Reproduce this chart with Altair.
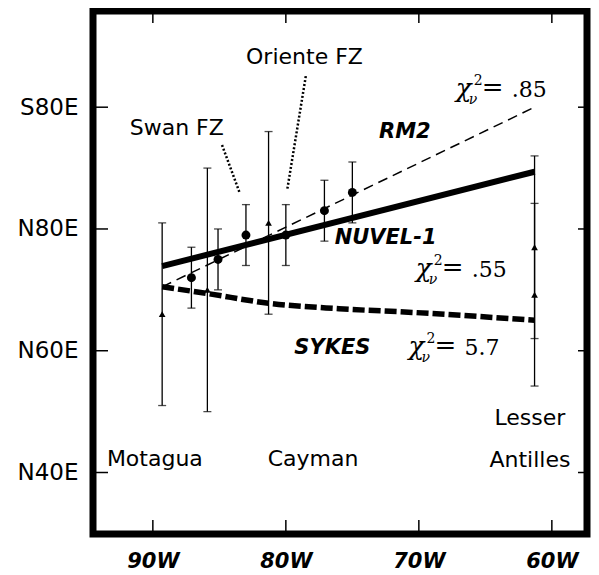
import altair as alt
import pandas as pd

# ---------------- data (longitude in degrees, negative = W; azimuth in degrees) -------------
circ_lon = [-87.1, -85.1, -83.0, -80.0, -77.1, -75.0]
circ_az = [72.0, 75.0, 79.0, 79.0, 83.0, 86.0]
circ_err = [5, 5, 5, 5, 5, 5]

tri_lon = [-89.3, -85.9, -81.3, -61.3, -61.3]
tri_az = [66.0, 70.0, 81.0, 77.0, 69.2]
tri_err = [15, 20, 15, 15, 15]

nuvel_lon = [-89.3, -61.3]
nuvel_az = [73.9, 89.4]

rm2_lon = [-89.3, -61.3]
rm2_az = [70.5, 100.0]

sykes_lon = [-89.3, -85.9, -81.3, -76.0, -70.5, -61.3]
sykes_az = [70.5, 69.4, 67.8, 66.9, 66.3, 65.0]

x_ticks = [-90, -80, -70, -60]
y_ticks = [40, 60, 80, 100]

# annotation texts
plain_text = ["Oriente FZ", "Swan FZ", "Motagua", "Cayman", "Lesser", "Antilles"]
plain_lon = [-78.6, -88.2, -89.85, -77.95, -61.65, -61.65]
plain_az = [108.3, 96.6, 42.2, 42.2, 48.9, 42.0]

model_text = ["RM2", "NUVEL-1", "SYKES"]
model_lon = [-71.05, -72.5, -76.5]
model_az = [95.9, 78.5, 60.4]

chi_val = [".85", ".55", "5.7"]
chi_lon = [-67.3, -70.3, -70.85]
chi_az = [101.7, 72.1, 59.3]

# dotted leader lines (fracture zones)
lead_grp = ["Oriente", "Oriente", "Swan", "Swan"]
lead_lon = [-78.5, -79.9, -84.8, -83.5]
lead_az = [105.1, 86.4, 93.8, 86.1]

# ---------------- layout ----------------
W, H = 494, 523
XDOM = [-94.5, -94.5 + W / 13.3]
YDOM = [29.9, 115.8]
SANS = "DejaVu Sans"
SERIF = "DejaVu Serif"

xs = alt.Scale(domain=XDOM, nice=False, zero=False)
ys = alt.Scale(domain=YDOM, nice=False, zero=False)

# axes: labels only (ticks drawn inside as rules)
x_axis = alt.Axis(values=x_ticks, labelExpr="(-datum.value) + 'W'", ticks=False,
                  domain=False, grid=False, title=None, labelFont=SANS,
                  labelFontSize=21, labelFontWeight="bold", labelFontStyle="italic",
                  labelColor="black", labelPadding=16)
y_axis = alt.Axis(values=y_ticks,
                  labelExpr="datum.value > 90 ? 'S' + (180 - datum.value) + 'E' : 'N' + datum.value + 'E'",
                  ticks=False, domain=False, grid=False, title=None, labelFont=SANS,
                  labelFontSize=23, labelColor="black", labelPadding=15)


def X(field="lon"):
    return alt.X(f"{field}:Q", scale=xs, axis=x_axis)


def Y(field="az"):
    return alt.Y(f"{field}:Q", scale=ys, axis=y_axis)


circ_df = pd.DataFrame({"lon": circ_lon, "az": circ_az,
                        "lo": [a - e for a, e in zip(circ_az, circ_err)],
                        "hi": [a + e for a, e in zip(circ_az, circ_err)]})
tri_df = pd.DataFrame({"lon": tri_lon, "az": tri_az,
                       "lo": [a - e for a, e in zip(tri_az, tri_err)],
                       "hi": [a + e for a, e in zip(tri_az, tri_err)]})
err_df = pd.concat([circ_df, tri_df], ignore_index=True)

nuvel_df = pd.DataFrame({"lon": nuvel_lon, "az": nuvel_az})
rm2_df = pd.DataFrame({"lon": rm2_lon, "az": rm2_az})
sykes_df = pd.DataFrame({"lon": sykes_lon, "az": sykes_az})
xt_df = pd.DataFrame({"lon": x_ticks})
yt_df = pd.DataFrame({"az": y_ticks})
plain_df = pd.DataFrame({"lon": plain_lon, "az": plain_az, "t": plain_text})
model_df = pd.DataFrame({"lon": model_lon, "az": model_az, "t": model_text})
chi_df = pd.DataFrame({"lon": chi_lon, "az": chi_az, "t": chi_val})
lead_df = pd.DataFrame({"lon": lead_lon, "az": lead_az, "g": lead_grp,
                        "o": list(range(len(lead_grp)))})

# inward ticks on all four sides
tick_b = alt.Chart(xt_df).mark_rule(color="black", strokeWidth=1.5).encode(
    x=X(), y=alt.value(H), y2=alt.value(H - 14))
tick_t = alt.Chart(xt_df).mark_rule(color="black", strokeWidth=1.5).encode(
    x=X(), y=alt.value(0), y2=alt.value(12))
tick_l = alt.Chart(yt_df).mark_rule(color="black", strokeWidth=1.5).encode(
    y=Y(), x=alt.value(0), x2=alt.value(15))
tick_r = alt.Chart(yt_df).mark_rule(color="black", strokeWidth=1.5).encode(
    y=Y(), x=alt.value(W), x2=alt.value(W - 9))

# error bars
err_rule = alt.Chart(err_df).mark_rule(color="black", strokeWidth=1.3).encode(
    x=X(), y=Y("lo"), y2="hi:Q")
cap_lo = alt.Chart(err_df).mark_tick(color="black", orient="horizontal", size=8,
                                     thickness=1.3).encode(x=X(), y=Y("lo"))
cap_hi = alt.Chart(err_df).mark_tick(color="black", orient="horizontal", size=8,
                                     thickness=1.3).encode(x=X(), y=Y("hi"))

circles = alt.Chart(circ_df).mark_circle(color="black", size=80, opacity=1).encode(
    x=X(), y=Y())
triangles = alt.Chart(tri_df).mark_point(shape="triangle-up", filled=True, color="black",
                                         size=45, opacity=1).encode(x=X(), y=Y())

# model lines
nuvel = alt.Chart(nuvel_df).mark_line(color="black", strokeWidth=6, strokeCap="butt").encode(
    x=X(), y=Y())
rm2 = alt.Chart(rm2_df).mark_line(color="black", strokeWidth=1.5, strokeDash=[10, 6]).encode(
    x=X(), y=Y())
sykes = alt.Chart(sykes_df).mark_line(color="black", strokeWidth=5.5, strokeDash=[12, 4],
                                      strokeCap="butt", interpolate="monotone").encode(
    x=X(), y=Y())

leads = alt.Chart(lead_df).mark_line(color="black", strokeWidth=2.5, strokeDash=[2, 2]).encode(
    x=X(), y=Y(), detail="g:N", order="o:Q")

# texts
plain = alt.Chart(plain_df).mark_text(font=SANS, fontSize=22, color="black",
                                      align="center", baseline="middle").encode(
    x=X(), y=Y(), text="t:N")
models = alt.Chart(model_df).mark_text(font=SANS, fontSize=21, fontWeight="bold",
                                       fontStyle="italic", color="black",
                                       align="center", baseline="middle").encode(
    x=X(), y=Y(), text="t:N")

chi_base = alt.Chart(chi_df).encode(x=X(), y=Y())
chi_x = chi_base.mark_text(font=SERIF, fontSize=26, fontStyle="italic", color="black",
                           align="left", baseline="alphabetic", dx=1, text="χ")
chi_nu = chi_base.mark_text(font=SERIF, fontSize=14, fontStyle="italic", color="black",
                            align="left", baseline="alphabetic", dx=14, dy=7, text="ν")
chi_2 = chi_base.mark_text(font=SERIF, fontSize=14, color="black",
                           align="left", baseline="alphabetic", dx=19, dy=-12, text="2")
chi_eq = chi_base.mark_text(font=SERIF, fontSize=26, color="black",
                            align="left", baseline="alphabetic", dx=27, dy=-1, text="=")
chi_v = chi_base.mark_text(font=SERIF, fontSize=22, color="black",
                           align="left", baseline="alphabetic", dx=57).encode(text="t:N")

chart = alt.layer(
    tick_b, tick_t, tick_l, tick_r,
    err_rule, cap_lo, cap_hi,
    rm2, sykes, nuvel, leads,
    circles, triangles,
    plain, models, chi_x, chi_nu, chi_2, chi_eq, chi_v,
).properties(
    width=W, height=H,
    padding={"left": 85, "top": 3, "right": 4, "bottom": 40},
    autosize=alt.AutoSizeParams(type="none"),
    background="white",
).configure_view(stroke="black", strokeWidth=7)

chart.save("out.html", embed_options={"renderer": "svg", "actions": False})
